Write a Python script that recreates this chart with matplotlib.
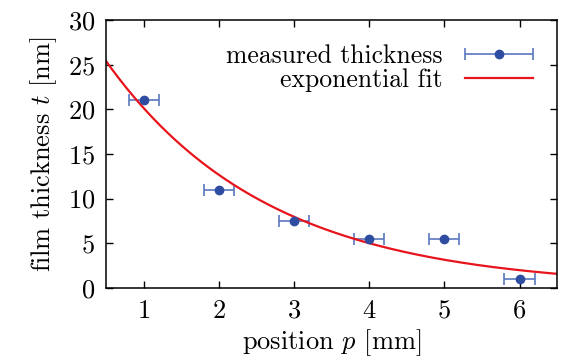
import numpy as np
import matplotlib
matplotlib.use("Agg")
import matplotlib.pyplot as plt
from matplotlib.legend_handler import HandlerErrorbar

# measured data
position = [1, 2, 3, 4, 5, 6]
thickness = [21, 11, 7.5, 5.5, 5.5, 1]
position_err = [0.2, 0.2, 0.2, 0.2, 0.2, 0.2]

# exponential fit t = A * exp(-k p)
fit_A = 32.0
fit_k = 0.464

plt.rcParams["font.family"] = "serif"
plt.rcParams["font.serif"] = ["cmr10"]
plt.rcParams["mathtext.fontset"] = "cm"
plt.rcParams["axes.formatter.use_mathtext"] = True

fig = plt.figure(figsize=(5.65, 3.58), dpi=100)
ax = fig.add_axes([0.188, 0.196, 0.798, 0.748])

p_fit = np.linspace(0.5, 6.5, 200)
t_fit = fit_A * np.exp(-fit_k * p_fit)

eb = ax.errorbar(position, thickness, xerr=position_err, fmt="o", color="#2f4da0",
                 ecolor="#5a78c0", elinewidth=1.2, capsize=4, capthick=1.2,
                 markersize=6, label="measured thickness")
ln, = ax.plot(p_fit, t_fit, color="#e8141c", linewidth=1.6, label="exponential fit")

ax.set_xlim(0.5, 6.5)
ax.set_ylim(0, 30)
ax.set_xticks([1, 2, 3, 4, 5, 6])
ax.set_yticks([0, 5, 10, 15, 20, 25, 30])
ax.tick_params(direction="in", top=True, right=True, labelsize=19, length=5,
               width=1, pad=8)
for s in ax.spines.values():
    s.set_linewidth(1.1)

ax.set_xlabel("position $p$ [mm]", fontsize=19, labelpad=3)
ax.set_ylabel("film thickness $t$ [nm]", fontsize=19, labelpad=6)

ax.legend([eb, ln], ["measured thickness", "exponential fit"],
          loc="upper right", frameon=False, markerfirst=False, fontsize=18.5,
          handlelength=2.65, borderaxespad=0.55, labelspacing=0.0,
          handletextpad=0.85, numpoints=1,
          handler_map={type(eb): HandlerErrorbar(xerr_size=1.32)})

fig.savefig("out.png", dpi=100)
